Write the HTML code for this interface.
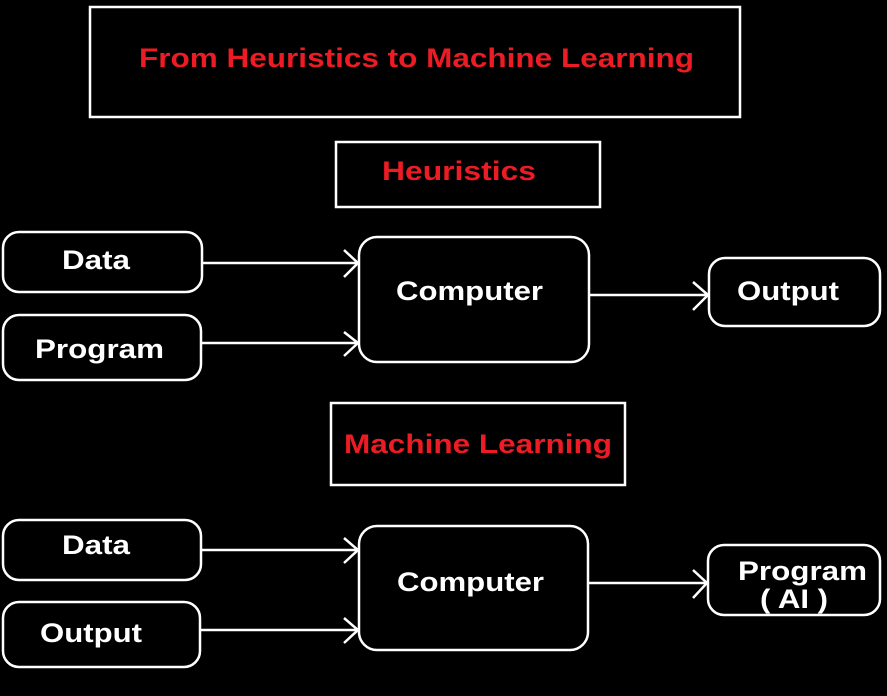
<!DOCTYPE html>
<html><head><style>html,body{margin:0;padding:0;background:#000;}svg{display:block}</style></head>
<body>
<svg width="887" height="696" viewBox="0 0 887 696" xmlns="http://www.w3.org/2000/svg">
<rect width="887" height="696" fill="#000"/>
<g fill="none" stroke="#fff" stroke-width="2.5">
<rect x="90" y="7" width="650" height="110"/>
<rect x="336" y="142" width="264" height="65"/>
<rect x="331" y="403" width="294" height="82"/>
<rect x="3" y="232" width="199" height="60" rx="16"/>
<rect x="3" y="315" width="198" height="65" rx="16"/>
<rect x="359" y="237" width="230" height="125" rx="18"/>
<rect x="709" y="258" width="171" height="68" rx="16"/>
<rect x="3" y="520" width="198" height="60" rx="16"/>
<rect x="3" y="602" width="197" height="65" rx="16"/>
<rect x="359" y="526" width="229" height="124" rx="18"/>
<rect x="708" y="545" width="172" height="70" rx="16"/>
<path d="M202 263H358M344 250L358 263L344 277"/>
<path d="M201 343H358M344 332L358 343L344 356"/>
<path d="M589 295H708M693 282L708 295L693 310"/>
<path d="M201 550H358M344 538L358 550L344 563"/>
<path d="M200 630H358M344 618L358 630L344 643"/>
<path d="M588 583H707M693 570L707 583L693 598"/>
</g>
<g font-family="Liberation Sans, sans-serif" font-weight="bold" font-size="27">
<text x="139" y="67" fill="#ed1c24" textLength="555" lengthAdjust="spacingAndGlyphs">From Heuristics to Machine Learning</text>
<text x="382" y="180" fill="#ed1c24" textLength="154" lengthAdjust="spacingAndGlyphs">Heuristics</text>
<text x="344" y="453" fill="#ed1c24" textLength="268" lengthAdjust="spacingAndGlyphs">Machine Learning</text>
<g fill="#fff">
<text x="62" y="269" textLength="68" lengthAdjust="spacingAndGlyphs">Data</text>
<text x="35" y="358" textLength="129" lengthAdjust="spacingAndGlyphs">Program</text>
<text x="396" y="300" textLength="147" lengthAdjust="spacingAndGlyphs">Computer</text>
<text x="737" y="300" textLength="102" lengthAdjust="spacingAndGlyphs">Output</text>
<text x="62" y="554" textLength="68" lengthAdjust="spacingAndGlyphs">Data</text>
<text x="40" y="642" textLength="102" lengthAdjust="spacingAndGlyphs">Output</text>
<text x="397" y="591" textLength="147" lengthAdjust="spacingAndGlyphs">Computer</text>
<text x="738" y="580" textLength="129" lengthAdjust="spacingAndGlyphs">Program</text>
<text x="760" y="608" textLength="68" lengthAdjust="spacingAndGlyphs">( AI )</text>
</g>
</g>
</svg>
</body></html>
